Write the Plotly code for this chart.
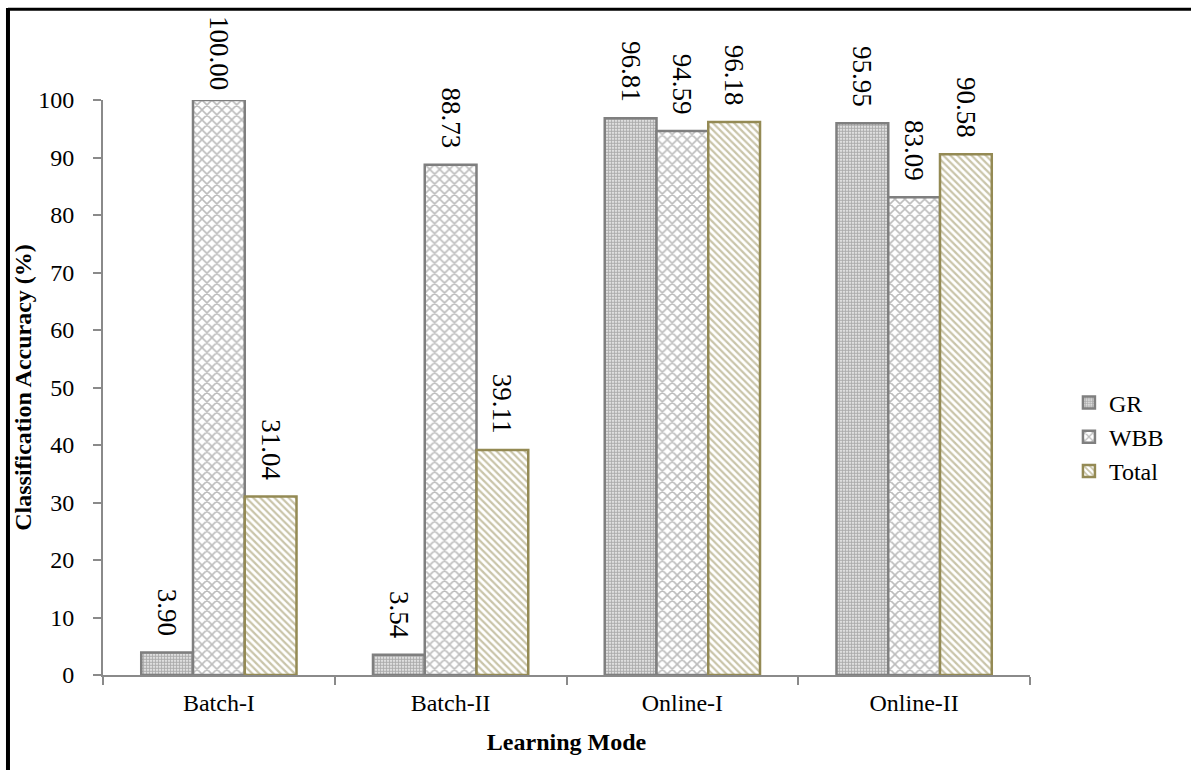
import plotly.graph_objects as go

# Learning modes and per-class classification accuracy (%)
modes = ["Batch-I", "Batch-II", "Online-I", "Online-II"]
gr = [3.90, 3.54, 96.81, 95.95]
wbb = [100.00, 88.73, 94.59, 83.09]
total = [31.04, 39.11, 96.18, 90.58]

y_ticks = list(range(0, 101, 10))

FONT = "Liberation Serif, Times New Roman, serif"
GRAY = "#7f7f7f"
OLIVE = "#948a54"
FS = 24
LABEL_FS = 27


def label(v):
    # trailing no-break spaces keep the rotated labels clear of the bar tops;
    # the tallest bar gets less so its label stays inside the frame
    pad = "\u00a0" if v >= 99.5 else "\u00a0\u00a0"
    return f"{v:.2f}{pad}"


fig = go.Figure()


def add_series(name, values, line_color, shape, size, solidity, fg):
    fig.add_trace(go.Bar(
        name=name,
        x=modes,
        y=values,
        text=[label(v) for v in values],
        textposition="outside",
        textangle=90,
        constraintext="none",
        cliponaxis=False,
        textfont=dict(family=FONT, size=LABEL_FS, color="black"),
        marker=dict(
            color="white",
            line=dict(color=line_color, width=2.5),
            pattern=dict(shape=shape, size=size, solidity=solidity,
                         fgcolor=fg, bgcolor="white", fillmode="overlay"),
        ),
    ))


add_series("GR", gr, GRAY, ".", 3, 0.7, "#5a5a5a")
add_series("WBB", wbb, GRAY, "x", 7, 0.4, "#7a7a7a")
add_series("Total", total, OLIVE, "\\", 5, 0.45, OLIVE)

fig.update_layout(
    width=1191,
    height=770,
    margin=dict(l=103, r=161, t=100, b=95),
    paper_bgcolor="white",
    plot_bgcolor="white",
    barmode="group",
    bargap=0.33,
    bargroupgap=0,
    font=dict(family=FONT, size=FS, color="black"),
    legend=dict(
        x=1.042, y=0.414, xanchor="left", yanchor="middle",
        font=dict(family=FONT, size=FS),
        itemwidth=30,
    ),
    showlegend=True,
)

fig.update_xaxes(
    showline=True, linecolor="#8a8a8a", linewidth=2,
    ticks="outside", ticklen=8, tickcolor="#8a8a8a", tickwidth=2,
    tickson="boundaries",
    ticklabelstandoff=5,
    tickfont=dict(family=FONT, size=FS),
    title=dict(text="<b>Learning Mode</b>", font=dict(family=FONT, size=FS), standoff=18),
)

fig.update_yaxes(
    range=[0, 100],
    tickvals=y_ticks,
    showline=True, linecolor="#8a8a8a", linewidth=2,
    ticks="outside", ticklen=8, tickcolor="#8a8a8a", tickwidth=2,
    ticklabelstandoff=14,
    showgrid=False, zeroline=False,
    tickfont=dict(family=FONT, size=FS),
    title=dict(text="<b>Classification Accuracy (%)</b>", font=dict(family=FONT, size=FS), standoff=0),
)

# Black frame along the top and left edges of the figure
fig.add_shape(type="line", xref="paper", yref="paper",
              x0=-0.1025, x1=1.18, y0=1.158, y1=1.158,
              line=dict(color="black", width=3))
fig.add_shape(type="line", xref="paper", yref="paper",
              x0=-0.1025, x1=-0.1025, y0=1.16, y1=-0.2,
              line=dict(color="black", width=4))

fig.write_html("out.html")
